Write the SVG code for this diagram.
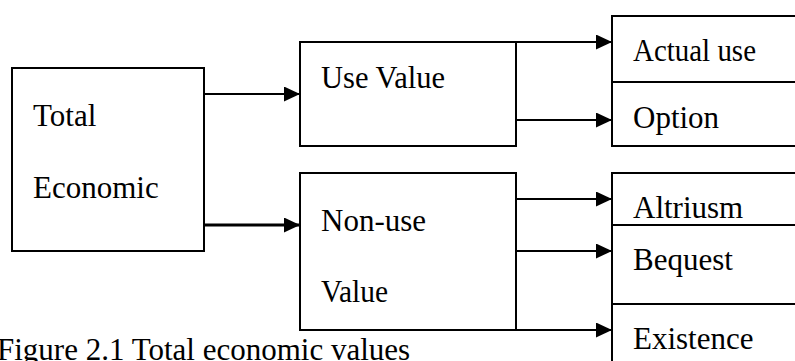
<svg xmlns="http://www.w3.org/2000/svg" width="795" height="361" viewBox="0 0 795 361">
<style>
  .box { fill: #fff; stroke: #000; stroke-width: 2; }
  .div { stroke: #000; stroke-width: 2; fill: none; }
  .con { stroke: #000; stroke-width: 2; fill: none; marker-end: url(#ah); }
  .thick { stroke-width: 3; }
  .t { font-family: 'Liberation Serif', 'DejaVu Serif', 'Times New Roman', serif; font-size: 31px; fill: #000; }
</style>
<defs>
  <marker id="ah" markerUnits="userSpaceOnUse" markerWidth="16" markerHeight="15" refX="16" refY="7.5" orient="auto" viewBox="0 0 16 15">
    <path d="M0,0 L16,7.5 L0,15 Z" fill="#000"/>
  </marker>
</defs>
<rect width="795" height="361" fill="#fff"/>

<g id="total">
  <rect class="box" x="12" y="68" width="192" height="183"/>
  <text class="t" x="33" y="126">Total</text>
  <text class="t" x="33" y="198">Economic</text>
</g>

<g id="use-value">
  <rect class="box" x="300" y="42" width="216" height="104"/>
  <text class="t" x="321" y="88" textLength="124" lengthAdjust="spacingAndGlyphs">Use Value</text>
</g>

<g id="non-use-value">
  <rect class="box" x="300" y="173" width="216" height="157"/>
  <text class="t" x="321" y="231">Non-use</text>
  <text class="t" x="321" y="302" textLength="67" lengthAdjust="spacingAndGlyphs">Value</text>
</g>

<g id="use-types">
  <rect class="box" x="612" y="16" width="200" height="130"/>
  <line class="div" x1="612" y1="82" x2="800" y2="82"/>
  <text class="t" x="633" y="61" textLength="123" lengthAdjust="spacingAndGlyphs">Actual use</text>
  <text class="t" x="633" y="128">Option</text>
</g>

<g id="non-use-types">
  <rect class="box" x="612" y="173" width="200" height="200"/>
  <line class="div" x1="612" y1="225" x2="800" y2="225"/>
  <line class="div" x1="612" y1="304" x2="800" y2="304"/>
  <text class="t" x="633" y="218">Altriusm</text>
  <text class="t" x="633" y="270">Bequest</text>
  <text class="t" x="633" y="349">Existence</text>
</g>

<g id="connectors">
  <line class="con" x1="204" y1="94" x2="300" y2="94"/>
  <line class="con thick" x1="204" y1="225" x2="300" y2="225"/>
  <line class="con" x1="516" y1="42" x2="612" y2="42"/>
  <line class="con" x1="516" y1="120" x2="612" y2="120"/>
  <line class="con" x1="516" y1="199" x2="612" y2="199"/>
  <line class="con" x1="516" y1="251" x2="612" y2="251"/>
  <line class="con" x1="516" y1="330" x2="612" y2="330"/>
</g>

<text id="caption" class="t" x="-3" y="360">Figure 2.1 Total economic values</text>
</svg>
